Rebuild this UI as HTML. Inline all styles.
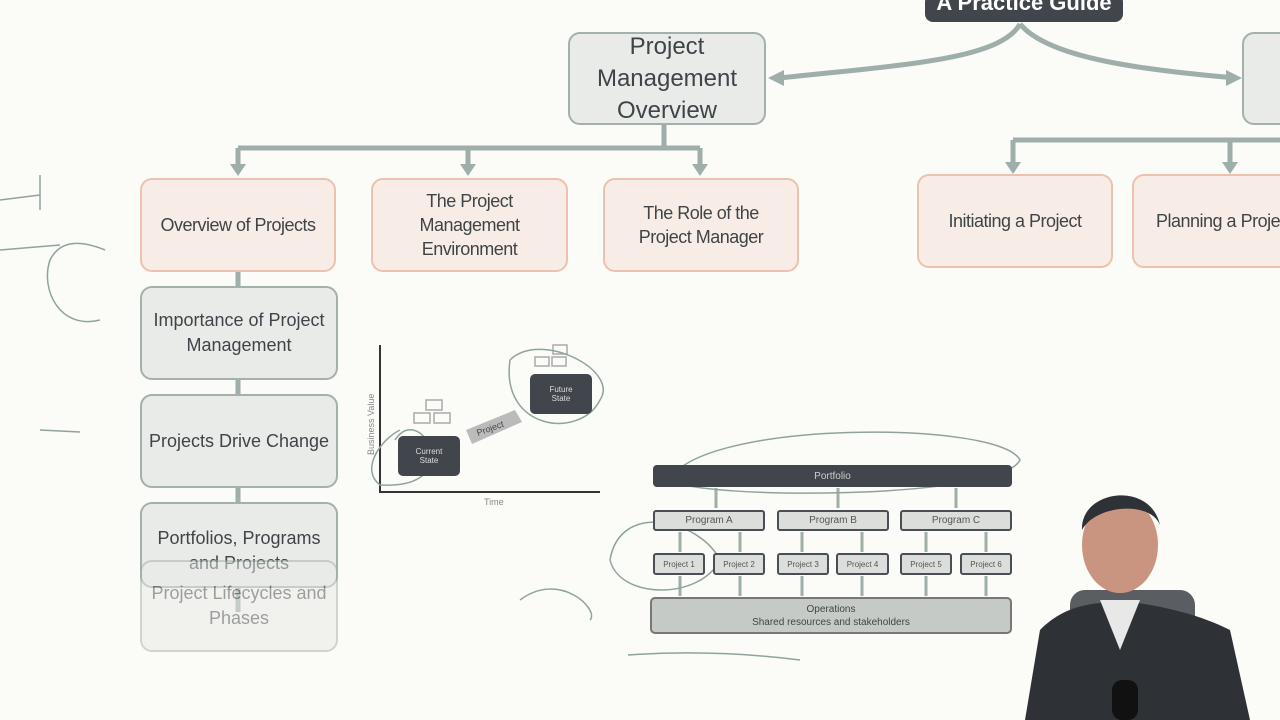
<!DOCTYPE html>
<html><head><meta charset="utf-8"><style>
body{margin:0;width:1280px;height:720px;background:#fbfbf7;overflow:hidden;position:relative;font-family:"Liberation Sans",sans-serif}
.b{position:absolute;box-sizing:border-box;display:flex;align-items:center;justify-content:center;text-align:center;color:#3f4448;border-radius:12px}
.g{background:#e8ebe7;border:2px solid #a3b0ac}
.o{background:#f8ede6;border:2px solid #ecc2ae;font-size:18px;line-height:24px;letter-spacing:-0.5px}
.s{font-size:8px;color:#555;border-radius:3px;background:#dcdedb;border:2px solid #4a4f55}
</style></head><body>
<svg width="1280" height="720" style="position:absolute;left:0;top:0">
<g fill="none" stroke="#9eaeaa" stroke-width="5">
<path d="M1020 24 C1000 60 900 65 780 78"/><path d="M1020 24 C1050 60 1150 70 1235 78"/>
<path d="M664 125V148M238 148H700M238 148V166M468 148V166M700 148V166"/>
<path d="M1013 140H1280M1013 140V164M1230 140V164"/>
<path d="M238 272V288M238 380V396M238 488V504M238 588V612"/>
</g>
<g fill="#9eaeaa">
<polygon points="768,78 784,70 784,86"/><polygon points="1242,78 1226,70 1226,86"/>
<polygon points="230,164 246,164 238,176"/><polygon points="460,164 476,164 468,176"/><polygon points="692,164 708,164 700,176"/>
<polygon points="1005,162 1021,162 1013,174"/><polygon points="1222,162 1238,162 1230,174"/>
</g>
<g stroke="#333" stroke-width="2" fill="none"><path d="M380 345V492H600"/></g>
<polygon points="466,430 515,410 522,422 472,444" fill="#bbb"/>
<text x="478" y="436" font-size="9" fill="#444" transform="rotate(-20 478 436)">Project</text>
<text x="484" y="505" font-size="9" fill="#888">Time</text>
<text x="374" y="455" font-size="9" fill="#888" transform="rotate(-90 374 455)">Business Value</text>
<g fill="none" stroke="#aaa" stroke-width="1.5"><rect x="426" y="400" width="16" height="10"/><rect x="414" y="413" width="16" height="10"/><rect x="434" y="413" width="16" height="10"/><rect x="553" y="345" width="14" height="9"/><rect x="535" y="357" width="14" height="9"/><rect x="552" y="357" width="14" height="9"/></g>
<g stroke="#9eaeaa" stroke-width="3"><path d="M716 488V508M838 488V508M956 488V508M680 532V552M740 532V552M802 532V552M862 532V552M926 532V552M986 532V552M680 576V596M740 576V596M802 576V596M862 576V596M926 576V596M986 576V596"/></g>
<g fill="none" stroke="#8fa39e" stroke-width="1.5">
<path d="M395 440 C420 400 470 490 380 485 C360 470 380 440 400 430"/>
<path d="M510 360 C540 330 620 370 600 400 C580 440 500 430 510 360"/>
<path d="M670 480 C700 420 1000 420 1020 460 C1000 500 700 500 670 480"/>
<path d="M610 560 C620 500 700 520 720 560 C700 600 620 600 610 560"/>
<path d="M520 600 C560 570 600 610 590 620"/><path d="M628 655 C700 650 760 655 800 660"/>
<path d="M0 200 L40 195M40 175V210M0 250 L60 245 M100 320 C60 330 40 290 50 260 C60 240 80 240 105 250"/><path d="M40 430 L80 432"/>
</g>
<g fill="#2e3237"><rect x="1070" y="590" width="125" height="40" rx="15" fill="#5a5e62"/><path d="M1025 720 L1040 630 C1070 600 1100 605 1120 600 C1150 605 1190 610 1230 630 L1250 720Z"/><ellipse cx="1120" cy="545" rx="38" ry="48" fill="#c99580"/><path d="M1082 530 C1080 490 1150 480 1160 525 C1150 500 1095 505 1082 530Z"/><rect x="1112" y="680" width="26" height="40" rx="10" fill="#111"/><path d="M1100 600 L1120 650 L1140 600Z" fill="#e8e8e8"/></g>
</svg>
<div class="b" style="left:925px;top:-6px;width:198px;height:28px;background:#41464d;border-radius:8px;color:#fff;font-size:22px;font-weight:bold;align-items:flex-end;line-height:10px;overflow:hidden"><span style="position:relative;top:-14px">A Practice Guide</span></div>
<div class="b g" style="left:568px;top:32px;width:198px;height:93px;font-size:24px;line-height:32px">Project<br>Management<br>Overview</div>
<div class="b g" style="left:1242px;top:32px;width:60px;height:93px"></div>
<div class="b o" style="left:140px;top:178px;width:196px;height:94px">Overview of Projects</div>
<div class="b o" style="left:371px;top:178px;width:197px;height:94px">The Project<br>Management<br>Environment</div>
<div class="b o" style="left:603px;top:178px;width:196px;height:94px">The Role of the<br>Project Manager</div>
<div class="b o" style="left:917px;top:174px;width:196px;height:94px">Initiating a Project</div>
<div class="b o" style="left:1132px;top:174px;width:170px;height:94px;justify-content:flex-start;padding-left:22px;white-space:nowrap">Planning a Project</div>
<div class="b g" style="left:140px;top:286px;width:198px;height:94px;font-size:18px;line-height:25px">Importance of Project<br>Management</div>
<div class="b g" style="left:140px;top:394px;width:198px;height:94px;font-size:18px">Projects Drive Change</div>
<div class="b g" style="left:140px;top:502px;width:198px;height:86px;font-size:18px;line-height:25px;align-items:flex-start;padding-top:22px">Portfolios, Programs<br>and Projects</div>
<div class="b g" style="left:140px;top:560px;width:198px;height:92px;font-size:18px;line-height:25px;opacity:.5">Project Lifecycles and<br>Phases</div>
<div class="b" style="left:398px;top:436px;width:62px;height:40px;background:#41464d;color:#ddd;font-size:8px;border-radius:5px">Current<br>State</div>
<div class="b" style="left:530px;top:374px;width:62px;height:40px;background:#41464d;color:#ddd;font-size:8px;border-radius:5px">Future<br>State</div>
<div class="b" style="left:653px;top:465px;width:359px;height:22px;background:#41464d;color:#ccc;font-size:10px;border-radius:4px">Portfolio</div>
<div class="b s" style="left:653px;top:510px;width:112px;height:21px;font-size:10px">Program A</div>
<div class="b s" style="left:777px;top:510px;width:112px;height:21px;font-size:10px">Program B</div>
<div class="b s" style="left:900px;top:510px;width:112px;height:21px;font-size:10px">Program C</div>
<div class="b s" style="left:653px;top:553px;width:52px;height:22px">Project 1</div>
<div class="b s" style="left:713px;top:553px;width:52px;height:22px">Project 2</div>
<div class="b s" style="left:777px;top:553px;width:52px;height:22px">Project 3</div>
<div class="b s" style="left:836px;top:553px;width:53px;height:22px">Project 4</div>
<div class="b s" style="left:900px;top:553px;width:52px;height:22px">Project 5</div>
<div class="b s" style="left:960px;top:553px;width:52px;height:22px">Project 6</div>
<div class="b" style="left:650px;top:597px;width:362px;height:37px;background:#c5cac6;border:2px solid #777;font-size:10px;line-height:13px;border-radius:5px;color:#444">Operations<br>Shared resources and stakeholders</div>
</body></html>
